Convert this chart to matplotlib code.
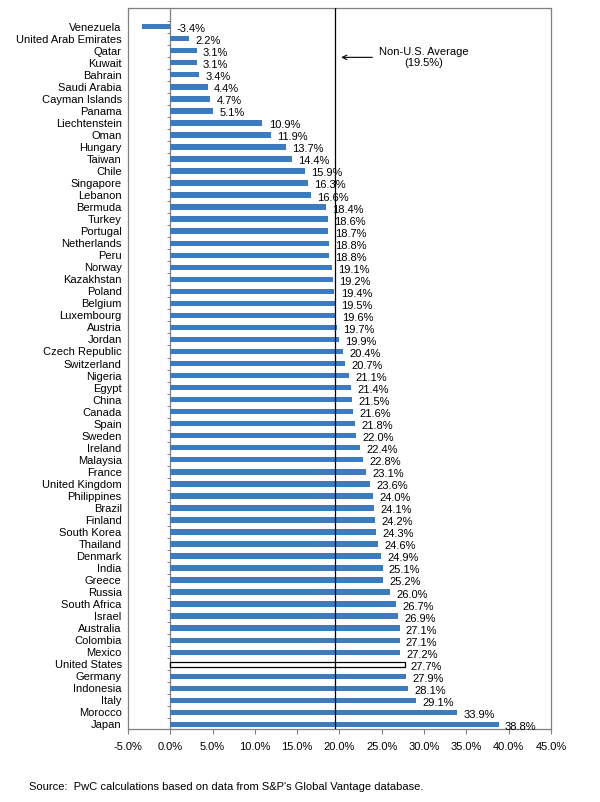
import matplotlib
matplotlib.use("Agg")
import matplotlib.pyplot as plt
import numpy as np

plt.rcParams['font.family'] = ['Liberation Sans', 'DejaVu Sans']

# Effective tax rates by country (%)
countries = ['Venezuela', 'United Arab Emirates', 'Qatar', 'Kuwait', 'Bahrain',
             'Saudi Arabia', 'Cayman Islands', 'Panama', 'Liechtenstein', 'Oman',
             'Hungary', 'Taiwan', 'Chile', 'Singapore', 'Lebanon', 'Bermuda',
             'Turkey', 'Portugal', 'Netherlands', 'Peru', 'Norway', 'Kazakhstan',
             'Poland', 'Belgium', 'Luxembourg', 'Austria', 'Jordan',
             'Czech Republic', 'Switzerland', 'Nigeria', 'Egypt', 'China',
             'Canada', 'Spain', 'Sweden', 'Ireland', 'Malaysia', 'France',
             'United Kingdom', 'Philippines', 'Brazil', 'Finland', 'South Korea',
             'Thailand', 'Denmark', 'India', 'Greece', 'Russia', 'South Africa',
             'Israel', 'Australia', 'Colombia', 'Mexico', 'United States',
             'Germany', 'Indonesia', 'Italy', 'Morocco', 'Japan']
rates = [-3.4, 2.2, 3.1, 3.1, 3.4, 4.4, 4.7, 5.1, 10.9, 11.9, 13.7, 14.4, 15.9,
         16.3, 16.6, 18.4, 18.6, 18.7, 18.8, 18.8, 19.1, 19.2, 19.4, 19.5, 19.6,
         19.7, 19.9, 20.4, 20.7, 21.1, 21.4, 21.5, 21.6, 21.8, 22.0, 22.4, 22.8,
         23.1, 23.6, 24.0, 24.1, 24.2, 24.3, 24.6, 24.9, 25.1, 25.2, 26.0, 26.7,
         26.9, 27.1, 27.1, 27.2, 27.7, 27.9, 28.1, 29.1, 33.9, 38.8]
non_us_avg = 19.5
highlight = 'United States'
xticks = [-5, 0, 5, 10, 15, 20, 25, 30, 35, 40, 45]

blue = '#3c7bbd'
frame_gray = '#808080'

fig = plt.figure(figsize=(6.0, 8.02), dpi=100)
ax = fig.add_axes([0.2133, 0.091, 0.705, 0.899])

y = np.arange(len(countries))
colors = ['white' if c == highlight else blue for c in countries]
edges = ['black' if c == highlight else blue for c in countries]
lws = [0.9 if c == highlight else 0 for c in countries]
ax.barh(y, rates, height=0.45, color=colors, edgecolor=edges, linewidth=lws,
        zorder=3)

# value labels
for yi, v in zip(y, rates):
    ax.annotate(f'{v:.1f}%', xy=(max(v, 0), yi + 0.2), xytext=(4.5, 0),
                textcoords='offset points', ha='left', va='center',
                fontsize=8, color='black', zorder=5)

ax.set_xlim(-5, 45)
ax.set_ylim(58.38, -1.55)
ax.set_xticks(xticks)
ax.set_xticklabels([f'{t:.1f}%' for t in xticks], fontsize=8)
ax.tick_params(axis='x', direction='out', length=3.5, width=0.8,
               color=frame_gray, pad=6)
ax.set_yticks(y)
ax.set_yticklabels(countries, fontsize=8)
ax.tick_params(axis='y', length=0, pad=4.5)
for s in ax.spines.values():
    s.set_color(frame_gray)
    s.set_linewidth(0.9)

# zero axis with category ticks
zero_ax = ax.secondary_yaxis(5 / 50)
zero_ax.set_yticks(np.arange(-0.5, len(countries), 1.0))
zero_ax.set_yticklabels([])
zero_ax.tick_params(axis='y', direction='out', length=2.5, width=0.7,
                    color=frame_gray)
zero_ax.spines['left'].set_color(frame_gray)
zero_ax.spines['left'].set_linewidth(0.9)

# non-U.S. average line
ax.axvline(non_us_avg, color='black', linewidth=0.9, zorder=4)
ax.annotate('Non-U.S. Average\n(19.5%)', xy=(non_us_avg + 0.7, 2.55),
            xytext=(30.0, 2.55), ha='center', va='center', fontsize=8,
            arrowprops=dict(arrowstyle='->', color='black', linewidth=0.8,
                            shrinkA=3, shrinkB=0))

fig.text(29 / 600, 1 - 787 / 802,
         "Source:  PwC calculations based on data from S&P's Global Vantage database.",
         fontsize=8, ha='left', va='center')

fig.savefig('out.png', dpi=100)
